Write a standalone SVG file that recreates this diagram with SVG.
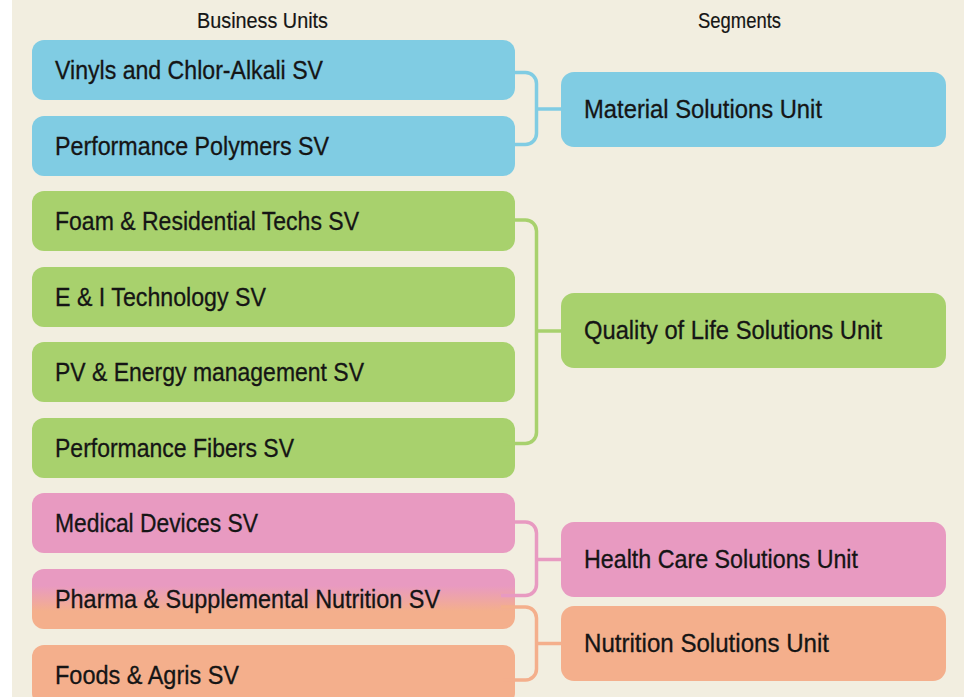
<svg xmlns="http://www.w3.org/2000/svg" width="973" height="697" viewBox="0 0 973 697">
  <defs>
    <style>
      .hdr { font-family: "Liberation Sans Narrow", "Liberation Sans", Arial, sans-serif; font-size: 22px; fill: #151515; stroke: #151515; stroke-width: 0.2px; }
      .lbl { font-family: "Liberation Sans Narrow", "Liberation Sans", Arial, sans-serif; font-size: 25.5px; fill: #151515; stroke: #151515; stroke-width: 0.3px; }
      .sv  { rx: 12px; ry: 12px; }
      .seg { rx: 13px; ry: 13px; }
      .blue   { fill: #80cce3; }
      .green  { fill: #a8d16d; }
      .pink   { fill: #e89ac1; }
      .orange { fill: #f4af8c; }
      .wire { fill: none; stroke-width: 3.5; stroke-linecap: butt; stroke-linejoin: round; }
    </style>
    <linearGradient id="pinkToOrange" x1="0" y1="0" x2="0" y2="1">
      <stop offset="0.28" stop-color="#e89ac1"/>
      <stop offset="0.70" stop-color="#f4af8c"/>
    </linearGradient>
  </defs>

  <!-- page -->
  <rect x="0" y="0" width="973" height="697" fill="#ffffff"/>
  <rect x="12" y="0" width="952" height="697" fill="#f2eee0"/>

  <!-- column headings -->
  <text class="hdr" x="197" y="28.3" textLength="131" lengthAdjust="spacingAndGlyphs">Business Units</text>
  <text class="hdr" x="698" y="28.3" textLength="83" lengthAdjust="spacingAndGlyphs">Segments</text>

  <!-- business units -->
  <g id="bu-vinyls">
    <rect class="sv blue" x="32" y="40" width="483" height="60"/>
    <text class="lbl" x="55" y="78.5" textLength="268" lengthAdjust="spacingAndGlyphs">Vinyls and Chlor-Alkali SV</text>
  </g>
  <g id="bu-perf-polymers">
    <rect class="sv blue" x="32" y="116" width="483" height="60"/>
    <text class="lbl" x="55" y="154.5" textLength="274" lengthAdjust="spacingAndGlyphs">Performance Polymers SV</text>
  </g>
  <g id="bu-foam">
    <rect class="sv green" x="32" y="191" width="483" height="60"/>
    <text class="lbl" x="55" y="229.5" textLength="304" lengthAdjust="spacingAndGlyphs">Foam &amp; Residential Techs SV</text>
  </g>
  <g id="bu-ei-tech">
    <rect class="sv green" x="32" y="267" width="483" height="60"/>
    <text class="lbl" x="55" y="305.5" textLength="211" lengthAdjust="spacingAndGlyphs">E &amp; I Technology SV</text>
  </g>
  <g id="bu-pv-energy">
    <rect class="sv green" x="32" y="342" width="483" height="60"/>
    <text class="lbl" x="55" y="380.5" textLength="309" lengthAdjust="spacingAndGlyphs">PV &amp; Energy management SV</text>
  </g>
  <g id="bu-perf-fibers">
    <rect class="sv green" x="32" y="418" width="483" height="60"/>
    <text class="lbl" x="55" y="456.5" textLength="239" lengthAdjust="spacingAndGlyphs">Performance Fibers SV</text>
  </g>
  <g id="bu-medical">
    <rect class="sv pink" x="32" y="493" width="483" height="60"/>
    <text class="lbl" x="55" y="531.5" textLength="203" lengthAdjust="spacingAndGlyphs">Medical Devices SV</text>
  </g>
  <g id="bu-pharma">
    <rect class="sv" x="32" y="569" width="483" height="60" fill="url(#pinkToOrange)"/>
    <text class="lbl" x="55" y="607.5" textLength="385" lengthAdjust="spacingAndGlyphs">Pharma &amp; Supplemental Nutrition SV</text>
  </g>
  <g id="bu-foods">
    <rect class="sv orange" x="32" y="645" width="483" height="60"/>
    <text class="lbl" x="55" y="683.5" textLength="184" lengthAdjust="spacingAndGlyphs">Foods &amp; Agris SV</text>
  </g>

  <!-- segments -->
  <g id="seg-material">
    <rect class="seg blue" x="561" y="72" width="385" height="75"/>
    <text class="lbl" x="584" y="118.3" textLength="238" lengthAdjust="spacingAndGlyphs">Material Solutions Unit</text>
  </g>
  <g id="seg-quality">
    <rect class="seg green" x="561" y="293" width="385" height="75"/>
    <text class="lbl" x="584" y="339.3" textLength="298" lengthAdjust="spacingAndGlyphs">Quality of Life Solutions Unit</text>
  </g>
  <g id="seg-health">
    <rect class="seg pink" x="561" y="522" width="385" height="75"/>
    <text class="lbl" x="584" y="568.3" textLength="274" lengthAdjust="spacingAndGlyphs">Health Care Solutions Unit</text>
  </g>
  <g id="seg-nutrition">
    <rect class="seg orange" x="561" y="606" width="385" height="75"/>
    <text class="lbl" x="584" y="652.3" textLength="245" lengthAdjust="spacingAndGlyphs">Nutrition Solutions Unit</text>
  </g>

  <!-- brackets joining business units to their segment -->
  <g id="connectors">
    <path class="wire" stroke="#80cce3" d="M503,72.5 H525.5 A11,11 0 0 1 536.5,83.5 V133.5 A11,11 0 0 1 525.5,144.5 H503 M536.5,109 H561"/>
    <path class="wire" stroke="#a8d16d" d="M503,220 H525.5 A11,11 0 0 1 536.5,231 V432.5 A11,11 0 0 1 525.5,443.5 H503 M536.5,331 H561"/>
    <path class="wire" stroke="#e89ac1" d="M503,522 H525.5 A11,11 0 0 1 536.5,533 V584.5 A11,11 0 0 1 525.5,595.5 H501 M536.5,559.5 H561"/>
    <path class="wire" stroke="#f4af8c" d="M501,607 H525.5 A11,11 0 0 1 536.5,618 V669 A11,11 0 0 1 525.5,680 H503 M536.5,643.5 H561"/>
  </g>
</svg>
